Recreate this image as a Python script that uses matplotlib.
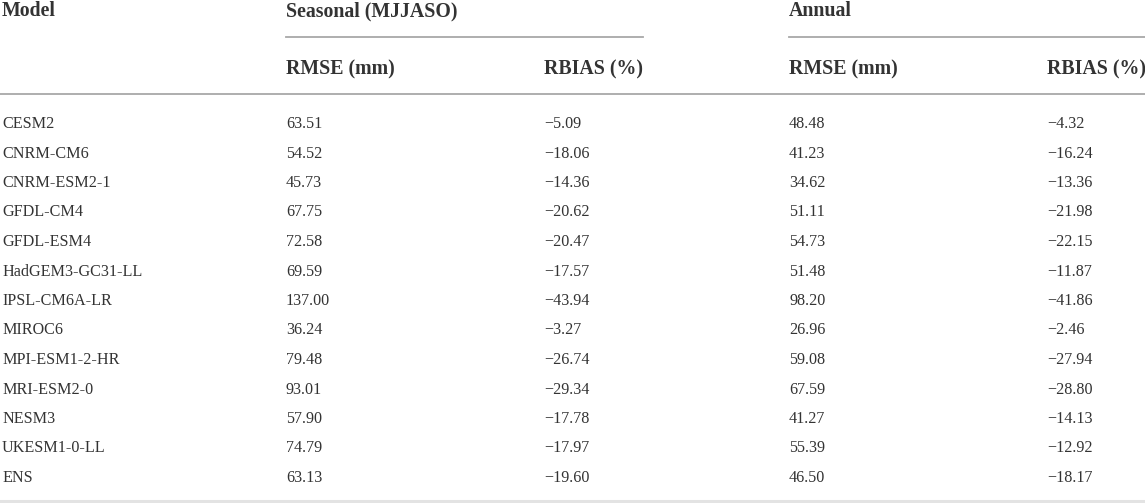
import matplotlib
matplotlib.use("Agg")
import matplotlib.pyplot as plt
from matplotlib.lines import Line2D

models = ["CESM2", "CNRM-CM6", "CNRM-ESM2-1", "GFDL-CM4", "GFDL-ESM4",
          "HadGEM3-GC31-LL", "IPSL-CM6A-LR", "MIROC6", "MPI-ESM1-2-HR",
          "MRI-ESM2-0", "NESM3", "UKESM1-0-LL", "ENS"]
seas_rmse = [63.51, 54.52, 45.73, 67.75, 72.58, 69.59, 137.00, 36.24,
             79.48, 93.01, 57.90, 74.79, 63.13]
seas_rbias = [-5.09, -18.06, -14.36, -20.62, -20.47, -17.57, -43.94, -3.27,
              -26.74, -29.34, -17.78, -17.97, -19.60]
ann_rmse = [48.48, 41.23, 34.62, 51.11, 54.73, 51.48, 98.20, 26.96,
            59.08, 67.59, 41.27, 55.39, 46.50]
ann_rbias = [-4.32, -16.24, -13.36, -21.98, -22.15, -11.87, -41.86, -2.46,
             -27.94, -28.80, -14.13, -12.92, -18.17]
group_headers = ["Seasonal (MJJASO)", "Annual"]
sub_headers = ["RMSE (mm)", "RBIAS (%)", "RMSE (mm)", "RBIAS (%)"]

W, H = 1145, 503
fig = plt.figure(figsize=(W / 100, H / 100), dpi=100)
fig.patch.set_facecolor("white")
plt.rcParams['font.family'] = ['Liberation Serif', 'DejaVu Serif']

txt = "#333333"
col_x = [2, 286, 544, 789, 1047]

# y values are baselines in pixels from the top
def put(x, y, s, bold=False, size=11.6):
    fig.text(x / W, 1 - y / H, s, ha="left", va="baseline", color=txt,
             fontsize=size, fontweight="bold" if bold else "normal")

def hline(x0, x1, y, color="#a8a8a8", lw=1.3):
    fig.add_artist(Line2D([x0 / W, x1 / W], [1 - y / H, 1 - y / H],
                          color=color, lw=lw, transform=fig.transFigure))

def fmt(v):
    return f"{v:.2f}".replace("-", "\u2212")

# header
hs = 14.3
put(col_x[0], 16.5, "Model", bold=True, size=hs)
put(col_x[1], 16.5, group_headers[0], bold=True, size=hs)
put(col_x[3], 16.5, group_headers[1], bold=True, size=hs)
hline(286, 643, 37)
hline(789, 1145, 37)
for x, s in zip(col_x[1:], sub_headers):
    put(x, 74, s, bold=True, size=hs)
hline(0, 1145, 94)

# rows
y0, dy = 128, 29.5
for i, m in enumerate(models):
    y = y0 + i * dy
    put(col_x[0], y, m)
    put(col_x[1], y, fmt(seas_rmse[i]))
    put(col_x[2], y, fmt(seas_rbias[i]))
    put(col_x[3], y, fmt(ann_rmse[i]))
    put(col_x[4], y, fmt(ann_rbias[i]))

hline(0, 1145, 501, color="#e3e3e3", lw=2.2)

fig.savefig("out.png", dpi=100, facecolor="white")
